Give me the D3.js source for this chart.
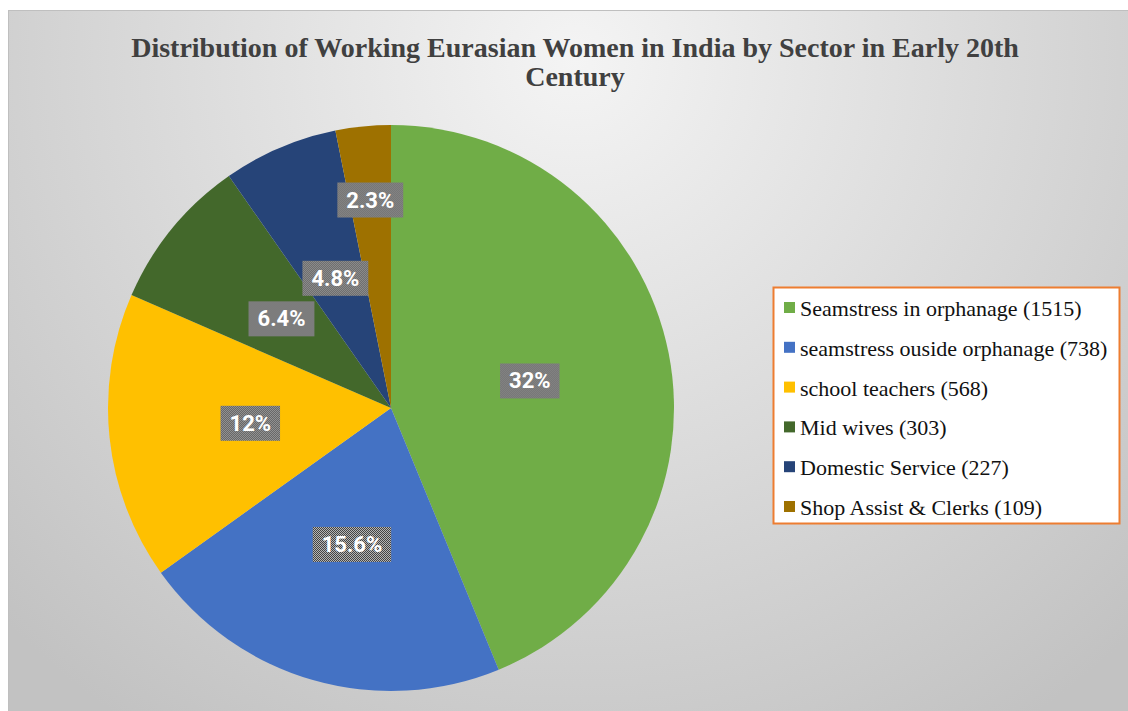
<!DOCTYPE html>
<html>
<head>
<meta charset="utf-8">
<script src="https://cdn.jsdelivr.net/npm/d3@7"></script>
<style>
  html, body { margin: 0; padding: 0; background: #fff; }
  svg { display: block; }
</style>
</head>
<body>
<div id="chart"></div>
<script>
const categories = [
  'Seamstress in orphanage (1515)',
  'seamstress ouside orphanage (738)',
  'school teachers (568)',
  'Mid wives (303)',
  'Domestic Service (227)',
  'Shop Assist & Clerks (109)'
]
const values = [1515, 738, 568, 303, 227, 109]
const pctLabels = ['32%', '15.6%', '12%', '6.4%', '4.8%', '2.3%']
const colors = ['#70ad47', '#4472c4', '#ffc000', '#43682b', '#264478', '#9e7100']
const titleLines = ['Distribution of Working Eurasian Women in India by Sector in Early 20th', 'Century']

const width = 1128
const height = 711

const svg = d3.select('#chart')
  .append('svg')
  .attr('width', width)
  .attr('height', height)

const defs = svg.append('defs')

const bg = defs.append('radialGradient')
  .attr('id', 'bg')
  .attr('gradientUnits', 'userSpaceOnUse')
  .attr('cx', 575).attr('cy', 60).attr('r', 800)
bg.append('stop').attr('offset', 0).attr('stop-color', '#f4f4f4')
bg.append('stop').attr('offset', 1).attr('stop-color', '#c2c2c2')

// dithered grey fill behind the data labels
const dots = defs.append('pattern')
  .attr('id', 'dots')
  .attr('patternUnits', 'userSpaceOnUse')
  .attr('width', 2).attr('height', 2)
dots.append('rect').attr('width', 2).attr('height', 2).attr('fill', '#bdbdbd')
dots.append('rect').attr('width', 1).attr('height', 1).attr('fill', '#3c3c3c')
dots.append('rect').attr('x', 1).attr('y', 1).attr('width', 1).attr('height', 1).attr('fill', '#3c3c3c')

svg.append('rect')
  .attr('x', 8.5).attr('y', 10.5)
  .attr('width', width - 8).attr('height', height - 10)
  .attr('fill', 'url(#bg)')
  .attr('stroke', '#bfbfbf')

const title = svg.append('text')
  .attr('text-anchor', 'middle')
  .attr('font-family', '"Liberation Serif", "Times New Roman", serif')
  .attr('font-weight', 'bold')
  .attr('font-size', 28)
  .attr('fill', '#404040')

titleLines.forEach((line, i) => {
  title.append('tspan')
    .attr('x', 575)
    .attr('y', 57 + i * 29)
    .text(line)
})

const cx = 391
const cy = 408
const radius = 283

const pie = d3.pie().sort(null).value(d => d)
const arcs = pie(values)

const arc = d3.arc().innerRadius(0).outerRadius(radius)

const g = svg.append('g')
  .attr('transform', `translate(${cx},${cy})`)

g.selectAll('path')
  .data(arcs)
  .join('path')
  .attr('d', arc)
  .attr('fill', (d, i) => colors[i])

const labels = g.append('g')
  .selectAll('g')
  .data(arcs)
  .join('g')
  .attr('transform', d => {
    const r = d.value < 150 ? radius * 0.74 : radius * 0.5
    const c = d3.arc().innerRadius(r).outerRadius(r).centroid(d)
    return `translate(${c[0]},${c[1]})`
  })

labels.each(function (d, i) {
  const lg = d3.select(this)
  const box = lg.append('rect')
  const t = lg.append('text')
    .attr('text-anchor', 'middle')
    .attr('dy', '0.36em')
    .attr('font-family', 'Roboto, "Open Sans", sans-serif')
    .attr('font-weight', 'bold')
    .attr('font-size', 22)
    .attr('fill', '#fff')
    .text(pctLabels[i])
  const bb = t.node().getBBox()
  box.attr('x', bb.x - 9).attr('y', bb.y - 5)
    .attr('width', bb.width + 18).attr('height', bb.height + 10)
    .attr('fill', 'url(#dots)')
})

const legend = svg.append('g')
  .attr('transform', 'translate(773, 287)')

legend.append('rect')
  .attr('x', 0.5).attr('y', 0.5)
  .attr('width', 346).attr('height', 236)
  .attr('fill', '#fff')
  .attr('stroke', '#ed7d31')
  .attr('stroke-width', 2)

categories.forEach((name, i) => {
  const row = legend.append('g')
    .attr('transform', `translate(0, ${21 + i * 39.8})`)
  row.append('rect')
    .attr('x', 11).attr('y', -6)
    .attr('width', 11).attr('height', 11)
    .attr('fill', colors[i])
  row.append('text')
    .attr('x', 27)
    .attr('y', 8)
    .attr('font-family', '"Liberation Serif", "Times New Roman", serif')
    .attr('font-size', 22)
    .attr('fill', '#111')
    .text(name)
})
</script>
</body>
</html>
